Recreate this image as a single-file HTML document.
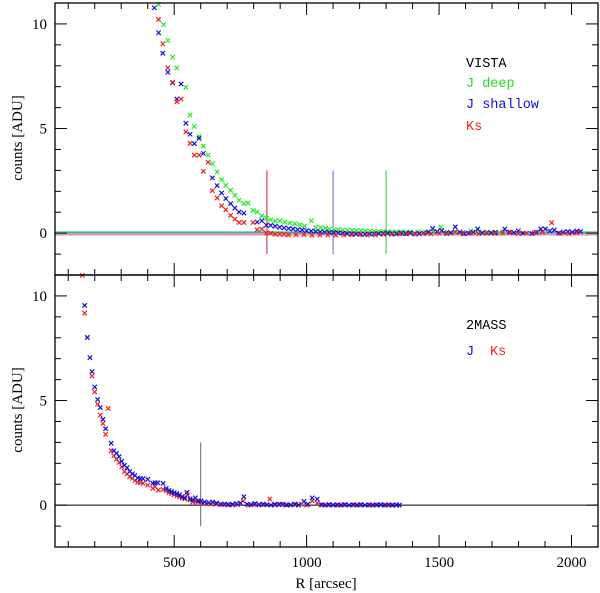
<!DOCTYPE html>
<html><head><meta charset="utf-8"><style>
body{margin:0;background:#fff;}
svg{display:block;font-family:"Liberation Mono",monospace;}
.serif{font-family:"Liberation Serif",serif;}
</style></head><body>
<svg id="chart" width="600" height="593" viewBox="0 0 600 593" xmlns="http://www.w3.org/2000/svg">
<g id="marks"></g>
<g id="frames"></g>
<text x="466" y="67" font-size="13.5" fill="#000">VISTA</text>
<text x="466" y="87" font-size="13.5" fill="#22dd22">J deep</text>
<text x="466" y="108" font-size="13.5" fill="#1111dd">J shallow</text>
<text x="466" y="130" font-size="13.5" fill="#ee2222">Ks</text>
<text x="466" y="329" font-size="13.5" fill="#000">2MASS</text>
<text x="466" y="355" font-size="13.5" fill="#1111dd">J</text>
<text x="490" y="355" font-size="13.5" fill="#ee2222">Ks</text>
<text class="serif" x="326" y="588" font-size="15" text-anchor="middle">R [arcsec]</text>
<text class="serif" transform="translate(22,138) rotate(-90)" font-size="15" text-anchor="middle">counts [ADU]</text>
<text class="serif" transform="translate(22,410) rotate(-90)" font-size="15" text-anchor="middle">counts [ADU]</text>
</svg>
<script>
const xTicks=[500,1000,1500,2000];
const yTicks=[0,5,10];
// top panel (VISTA)
const gR=[441,460,476,494,510,544,560,576,594,610,628,644,662,679,695,713,729,745,763,779,798,813,831,848,864,881,899,917,936,955,974,992,1018,1034,1053,1071,1086,1105,1120,1137,1154,1171,1188,1205,1222,1239,1256,1273,1290,1307,1324,1341,1358,1375,1392,1420,1450,1480,1506,1530,1560,1590,1620,1650,1680,1710,1740];
const gV=[10.93,9.97,9.21,8.41,7.9,6.97,5.65,5.1,4.62,4.16,3.73,3.32,2.93,2.56,2.29,2.05,1.81,1.57,1.41,1.44,1.09,1.01,0.83,0.72,0.64,0.58,0.59,0.53,0.48,0.45,0.4,0.35,0.59,0.27,0.27,0.24,0.19,0.16,0.16,0.15,0.14,0.13,0.12,0.12,0.1,0.1,0.09,0.08,0.08,0.07,0.07,0.06,0.06,0.05,0.05,0.06,0.05,0.07,0.29,0.06,0.08,0.05,0.1,0.07,0.06,0.05,0.08];
const bR=[425,441,457,476,494,510,526,544,560,576,594,610,644,662,679,695,713,729,745,763,813,831,848,864,881,898,915,932,949,966,983,1000,1017,1034,1051,1068,1085,1102,1119,1136,1153,1170,1187,1204,1221,1238,1255,1272,1289,1306,1323,1340,1357,1374,1391,1408,1425,1442,1459,1476,1493,1510,1527,1544,1561,1578,1595,1612,1629,1646,1663,1680,1697,1714,1748,1765,1782,1799,1816,1850,1867,1884,1901,1918,1935,1952,1969,1986,2003,2020,2034];
const bV=[10.77,9.58,8.6,7.69,7.18,6.41,7.13,5.25,4.73,4.28,4.53,3.81,2.64,2.27,1.92,1.65,1.41,1.2,1.01,0.96,0.53,0.59,0.38,0.37,0.33,0.28,0.25,0.22,0.2,0.17,0.15,0.12,0.1,0.08,0.06,0.05,0.04,0.03,0.02,0,-0.02,-0.03,-0.04,-0.05,-0.05,-0.04,-0.03,-0.02,-0.01,0,-0.02,-0.03,0,-0.02,0.02,-0.03,-0.02,0,0.05,0.22,0.08,0.12,0,0.02,0.3,0.05,-0.02,0,0.05,0.2,0.02,0,0.02,0.03,0.2,0.05,0.02,0.1,0,-0.02,0.05,0.2,0.2,0.1,0.15,0,0.05,0.08,0.05,0.1,0.08];
const rR=[441,457,476,494,510,526,544,560,576,594,610,628,644,662,679,695,713,729,745,763,798,813,831,848,864,881,898,915,932,960,990,1020,1050,1080,1110,1140,1170,1200,1230,1260,1290,1320,1350,1380,1410,1440,1470,1500,1530,1560,1590,1620,1650,1680,1710,1740,1770,1800,1830,1860,1890,1925,1960,1990,2020];
const rV=[10.21,9.05,7.9,7.21,6.28,6.41,4.84,4.29,3.73,3.73,2.96,3.39,2.03,1.68,1.31,1.12,0.85,0.67,0.51,0.51,0.51,0.16,0.2,0,0,-0.05,-0.05,-0.06,-0.08,-0.08,-0.07,-0.1,-0.09,-0.08,-0.1,-0.09,-0.08,-0.07,-0.09,-0.08,-0.06,-0.05,-0.04,-0.03,-0.05,-0.02,-0.03,0,-0.02,0.05,-0.02,0,-0.03,0.02,-0.02,0,0.05,-0.02,0,0.02,0.05,0.5,0,-0.02,0.02];
// bottom panel (2MASS)
const jR=[162,172,182,190,200,211,221,231,241,262,272,282,292,302,312,322,332,342,352,362,372,382,400,419,428,438,458,470,480,490,500,510,520,530,540,548,560,570,580,590,600,615,630,645,660,675,690,705,720,735,750,763,775,790,805,820,835,850,865,880,895,910,925,940,955,970,990,1005,1021,1040,1055,1070,1085,1100,1115,1130,1145,1160,1175,1190,1205,1220,1235,1250,1265,1280,1295,1310,1325,1340,1350];
const jV=[9.55,8.01,7.05,6.38,5.65,5.05,4.66,4.1,3.65,2.96,2.6,2.48,2.32,2.1,1.9,1.79,1.61,1.5,1.42,1.3,1.27,1.27,1.23,1.04,1.07,1.07,1.04,0.8,0.7,0.65,0.6,0.55,0.5,0.4,0.35,0.61,0.3,0.25,0.35,0.2,0.2,0.15,0.12,0.15,0.1,0.05,0.05,0.02,0.05,0.08,0.1,0.4,0.05,0.02,0.08,0.03,0.05,0.02,0.0,0.05,0.03,0.05,0.0,0.02,0.05,0.0,0.18,0.05,0.35,0.29,0.02,0.0,0.03,0.0,0.02,0.0,0.03,0.0,0.02,0.0,0.03,0.0,0.02,0.0,0.01,0.03,0.0,0.02,0.0,0.01,0.0];
const kR=[153,162,172,190,200,211,221,231,241,251,262,272,282,292,302,312,322,332,342,352,362,372,382,400,419,428,440,458,470,480,490,500,510,520,530,540,550,560,570,580,590,605,620,640,660,680,700,720,740,760,780,800,820,840,861,880,900,920,940,960,980,1000,1021,1040,1060,1080,1100,1120,1140,1160,1180,1200,1220,1240,1260,1280,1300,1320,1340];
const kV=[10.98,9.18,8.01,6.17,5.41,4.83,4.3,3.9,3.38,4.62,2.6,2.36,2.2,2.04,1.83,1.6,1.49,1.36,1.28,1.17,1.09,1.09,1.04,0.96,0.8,0.88,0.72,0.75,0.7,0.6,0.55,0.5,0.45,0.4,0.35,0.3,0.5,0.25,0.15,0.2,0.15,0.1,0.08,0.05,0.05,0.02,0.03,0.0,0.02,0.2,0.0,0.03,0.0,0.02,0.29,0.0,0.05,0.02,0.0,0.03,0.05,0.0,0.2,0.1,0.02,0.0,0.02,0.0,0.01,0.0,0.02,0.0,0.01,0.0,0.02,0.0,0.01,0.0,0.02];

const NS='http://www.w3.org/2000/svg';
const X0=55,X1=598,RMIN=50,RMAX=2100,VMIN=-2,VMAX=11;
const panels=[{top:3,bot:275},{top:275,bot:547}];
function xs(r){return X0+(r-RMIN)/(RMAX-RMIN)*(X1-X0);}
function ys(p,v){const P=panels[p];return P.bot-(v-VMIN)/(VMAX-VMIN)*(P.bot-P.top);}
const marks=document.getElementById('marks');
const frames=document.getElementById('frames');
function line(g,x1,y1,x2,y2,c,w){const l=document.createElementNS(NS,'line');l.setAttribute('x1',x1);l.setAttribute('y1',y1);l.setAttribute('x2',x2);l.setAttribute('y2',y2);l.setAttribute('stroke',c);l.setAttribute('stroke-width',w);g.appendChild(l);return l;}
function series(p,R,V,color,name){
  const g=document.createElementNS(NS,'g');
  
  
  for(let i=0;i<R.length;i++){
    if(V[i]>VMAX+0.1)continue;
    const x=xs(R[i]),y=ys(p,V[i]),s=2.2;
    const m=document.createElementNS(NS,'path');
    m.setAttribute('d',`M${x-s},${y-s}L${x+s},${y+s}M${x-s},${y+s}L${x+s},${y-s}`);
    m.setAttribute('stroke',color);m.setAttribute('stroke-width','1.2');m.setAttribute('fill','none');
    
    
    g.appendChild(m);
  }
  marks.appendChild(g);
}
let l;
l=line(marks,X0,ys(0,0.05),X1,ys(0,0.05),'#33cc88',1.5);


l=line(marks,X0,ys(0,0),X1,ys(0,0),'#6677aa',1);


l=line(marks,X0,ys(0,-0.08),X1,ys(0,-0.08),'#ee6688',1.2);


l=line(marks,xs(850),ys(0,3),xs(850),ys(0,-1),'#cc2233',1);


l=line(marks,xs(1100),ys(0,3),xs(1100),ys(0,-1),'#6666dd',1);


l=line(marks,xs(1300),ys(0,3),xs(1300),ys(0,-1),'#33cc33',1);


l=line(marks,X0,ys(1,0),X1,ys(1,0),'#000',1);


l=line(marks,xs(600),ys(1,3),xs(600),ys(1,-1),'#666',1);


series(0,gR,gV,'#22ee22','series-j-deep');
series(0,bR,bV,'#1111dd','series-j-shallow');
series(0,rR,rV,'#ee2222','series-ks');
series(1,kR,kV,'#ee2222','series-2mass-ks');
series(1,jR,jV,'#1111dd','series-2mass-j');
panels.forEach((P,p)=>{
  const r=document.createElementNS(NS,'rect');
  r.setAttribute('x',X0);r.setAttribute('y',P.top);r.setAttribute('width',X1-X0);r.setAttribute('height',P.bot-P.top);
  r.setAttribute('fill','none');r.setAttribute('stroke','#000');r.setAttribute('stroke-width','1.3');
  
  
  frames.appendChild(r);
  for(let t=100;t<=2000;t+=100){
    const x=xs(t),len=(t%500===0)?12:6;
    line(frames,x,P.top,x,P.top+len,'#000',1);
    line(frames,x,P.bot,x,P.bot-len,'#000',1);
  }
  for(let v=-1;v<=11;v++){
    const y=ys(p,v),len=(v%5===0)?12:6;
    line(frames,X0,y,X0+len,y,'#000',1);
    line(frames,X1,y,X1-len,y,'#000',1);
  }
  yTicks.forEach(v=>{
    const t=document.createElementNS(NS,'text');
    t.setAttribute('x',X0-8);t.setAttribute('y',ys(p,v)+5);t.setAttribute('text-anchor','end');t.setAttribute('font-size','15');
    t.setAttribute('class','serif');
    
    
    t.textContent=v;frames.appendChild(t);
  });
});
xTicks.forEach(v=>{
  const t=document.createElementNS(NS,'text');
  t.setAttribute('x',xs(v));t.setAttribute('y',567);t.setAttribute('text-anchor','middle');t.setAttribute('font-size','15');
  t.setAttribute('class','serif');
  
  
  t.textContent=v;frames.appendChild(t);
});
</script>
</body></html>
